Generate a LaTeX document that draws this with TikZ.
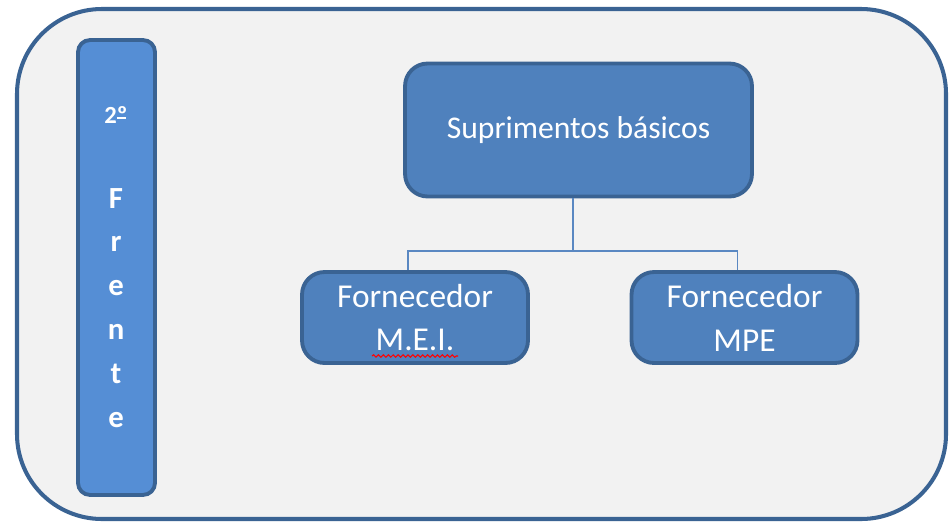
\documentclass[tikz,border=0pt]{standalone}
\usepackage{fontspec}
\setmainfont{Carlito}
\usetikzlibrary{decorations.pathmorphing}
\definecolor{panelfill}{HTML}{F2F2F2}
\definecolor{darkline}{HTML}{3A6393}
\definecolor{barfill}{HTML}{558ED5}
\definecolor{boxfill}{HTML}{4F81BD}
\definecolor{linkline}{HTML}{5A88C2}
\begin{document}
\begin{tikzpicture}[x=0.02cm,y=-0.02cm,
		panel/.style={draw=darkline,line width=2.3pt,fill=panelfill,rounded corners=1.7cm},
		bar/.style={draw=darkline,line width=2.2pt,fill=barfill,rounded corners=0.24cm,minimum width=1.54cm,minimum height=9.1cm},
		box/.style={draw=darkline,line width=2.2pt,fill=boxfill,rounded corners=0.45cm,text=white,align=center,inner sep=0pt},
		bartext/.style={text=white,font=\bfseries\fontsize{17.5}{25}\selectfont,align=center,inner sep=0pt},
		link/.style={draw=linkline,line width=0.9pt},
		squig/.style={draw=red,line width=0.6pt,decorate,decoration={snake,amplitude=0.7pt,segment length=2.8pt}}]
		\useasboundingbox (0,0) rectangle (952,521);
		\fill[white] (0,0) rectangle (952,521);
		\draw[panel] (17,9) rectangle (946,519);
		\node[bar](bar) at (116.5,267.5) {};
		\node[bartext,font=\bfseries\fontsize{14}{16}\selectfont](ord) at (116,115) {2\makebox[0pt][l]{\rule[0.2em]{0.36em}{0.07em}}º};
		\node[bartext](frente) at (116,308) {F\\r\\e\\n\\t\\e};
		\node[box,minimum width=6.94cm,minimum height=2.66cm,font=\fontsize{18}{22}\selectfont](supr) at (578.5,130) {Suprimentos básicos};
		\node[box,minimum width=4.52cm,minimum height=1.82cm,font=\fontsize{19}{25}\selectfont](mei) at (415,317.5) {Fornecedor\\M.E.I.};
		\node[box,minimum width=4.52cm,minimum height=1.82cm,font=\fontsize{19}{25}\selectfont](mpe) at (744.5,317.5) {Fornecedor\\MPE};
		\coordinate (bus) at (573,251);
		\draw[link] (supr.south -| bus) -- (bus);
		\draw[link] (bus) -| ([xshift=-4pt]mei.north);
		\draw[link] (bus) -| ([xshift=-4pt]mpe.north);
		\draw[squig] (372,356) -- (458,356);
	\end{tikzpicture}
\end{document}
